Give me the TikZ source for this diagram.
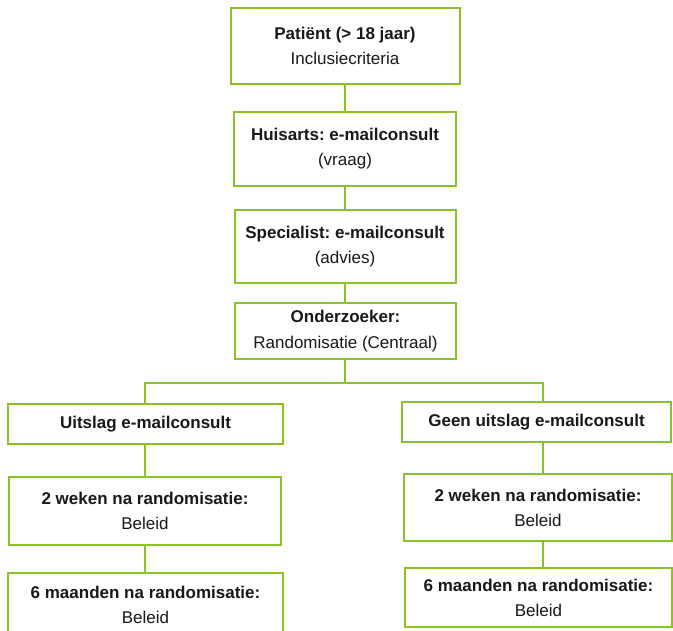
\documentclass[tikz,border=0pt]{standalone}
\usepackage{fontspec}
\setmainfont{Liberation Sans}
\frenchspacing
\definecolor{lgreen}{RGB}{138,194,40}
\definecolor{txt}{RGB}{25,25,25}
\begin{document}
\begin{tikzpicture}[x=1pt,y=-1pt,
  boxstyle/.style={draw=lgreen,line width=2pt,fill=white,inner sep=0pt,
    align=center,text=txt,font=\fontsize{17}{25}\selectfont},
  link/.style={draw=lgreen,line width=2.8pt}]
\useasboundingbox (0,0) rectangle (673,631);
\node[boxstyle,minimum width=229pt,minimum height=76pt] (b1) at (345,46) {\textbf{Patiënt (> 18 jaar)}\\Inclusiecriteria};
\node[boxstyle,minimum width=222pt,minimum height=74pt] (b2) at (345,149) {\textbf{Huisarts: e-mailconsult}\\(vraag)};
\node[boxstyle,minimum width=221pt,minimum height=73pt] (b3) at (345,246.5) {\textbf{Specialist: e-mailconsult}\\(advies)};
\node[boxstyle,minimum width=221pt,minimum height=56pt,font=\fontsize{17}{26}\selectfont] (b4) at (345.5,331) {\textbf{Onderzoeker:}\\Randomisatie (Centraal)};
\node[boxstyle,minimum width=275pt,minimum height=40pt] (l1) at (145.5,424) {\textbf{Uitslag e-mailconsult}};
\node[boxstyle,minimum width=269pt,minimum height=40pt] (r1) at (536.5,422) {\textbf{Geen uitslag e-mailconsult}};
\node[boxstyle,minimum width=272pt,minimum height=68pt] (l2) at (145,511) {\textbf{2 weken na randomisatie:}\\Beleid};
\node[boxstyle,minimum width=268pt,minimum height=67pt] (r2) at (538,507.5) {\textbf{2 weken na randomisatie:}\\Beleid};
\node[boxstyle,minimum width=275pt,minimum height=64pt] (l3) at (145.5,605) {\textbf{6 maanden na randomisatie:}\\Beleid};
\node[boxstyle,minimum width=267pt,minimum height=59pt] (r3) at (538.5,597.5) {\textbf{6 maanden na randomisatie:}\\Beleid};
\coordinate (jc) at (345,383);
\coordinate (jl) at (145,383);
\coordinate (jr) at (543,383);
\draw[link] (b1.south) -- (b1.south |- b2.north);
\draw[link] (b2.south) -- (b2.south |- b3.north);
\draw[link] (b3.south) -- (b3.south |- b4.north);
\draw[link] (b4.south -| jc) -- (jc);
\draw[link,line cap=rect] (jl) -- (jr);
\draw[link] (jl) -- (jl |- l1.north);
\draw[link] (jr) -- (jr |- r1.north);
\draw[link] (l1.south -| jl) -- (l2.north -| jl);
\draw[link] (l2.south -| jl) -- (l3.north -| jl);
\draw[link] (r1.south -| jr) -- (r2.north -| jr);
\draw[link] (r2.south -| jr) -- (r3.north -| jr);
\end{tikzpicture}
\end{document}
